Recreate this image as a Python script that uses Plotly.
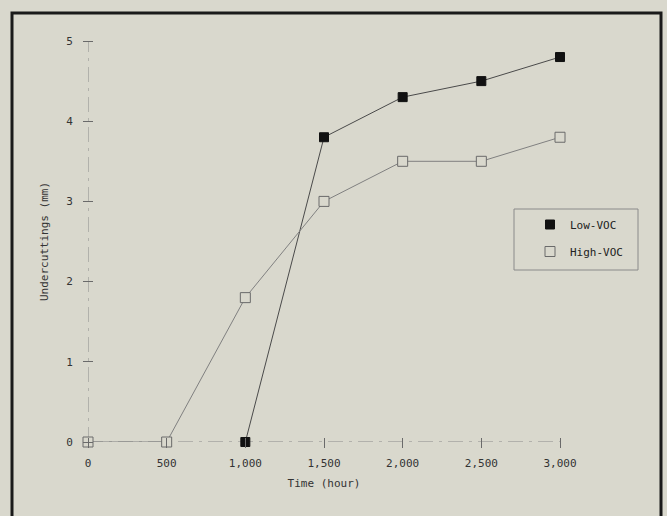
import plotly.graph_objects as go

# ---- data ----
time_low = [1000, 1500, 2000, 2500, 3000]
low_voc = [0.0, 3.8, 4.3, 4.5, 4.8]
time_high = [0, 500, 1000, 1500, 2000, 2500, 3000]
high_voc = [0.0, 0.0, 1.8, 3.0, 3.5, 3.5, 3.8]
x_tickvals = [0, 500, 1000, 1500, 2000, 2500, 3000]
x_ticktext = ["0", "500", "1,000", "1,500", "2,000", "2,500", "3,000"]
y_tickvals = [0, 1, 2, 3, 4, 5]
y_ticktext = ["0", "1", "2", "3", "4", "5"]

BG = "rgb(217,216,205)"
FONT = "DejaVu Sans Mono"
TXT = "#333333"

W, H = 667, 516
L, R, T, B = 88, 107, 41, 74
pw, ph = W - L - R, H - T - B
TICK_HALF = 5  # ticks cross the axis line: 5 px on each side

low_line = dict(color="#4a4a4a", width=1)
low_marker = dict(symbol="square", size=9, color="#111111",
                  line=dict(color="#111111", width=1))
high_line = dict(color="#808080", width=1)
high_marker = dict(symbol="square", size=10, color=BG,
                   line=dict(color="#6a6a6a", width=1))

fig = go.Figure()

fig.add_trace(go.Scatter(
    x=time_low, y=low_voc, name="Low-VOC", mode="lines+markers",
    line=low_line, marker=low_marker, cliponaxis=False, showlegend=False,
))
fig.add_trace(go.Scatter(
    x=time_high, y=high_voc, name="High-VOC", mode="lines+markers",
    line=high_line, marker=high_marker, cliponaxis=False, showlegend=False,
))
# legend entries (marker only, as in the reference)
fig.add_trace(go.Scatter(x=[None], y=[None], name="Low-VOC", mode="markers",
                         marker=low_marker, legendgroup="a"))
fig.add_trace(go.Scatter(x=[None], y=[None], name="High-VOC", mode="markers",
                         marker=high_marker, legendgroup="b"))

# dashed axis lines
fig.add_shape(type="line", xref="x", yref="y", x0=0, x1=0, y0=0, y1=5,
              line=dict(color="#8a8a8a", width=1, dash="longdashdot"), layer="below")
fig.add_shape(type="line", xref="x", yref="y", x0=0, x1=3000, y0=0, y1=0,
              line=dict(color="#8a8a8a", width=1, dash="longdashdot"), layer="below")

def px_x(p):
    return (p - L) / pw
def px_y(p):
    return (H - B - p) / ph

# outer frame
fig.add_shape(type="rect", xref="paper", yref="paper",
              x0=px_x(12), x1=px_x(661), y0=px_y(540), y1=px_y(13),
              line=dict(color="#1a1a1a", width=3), fillcolor="rgba(0,0,0,0)")
# legend box
fig.add_shape(type="rect", xref="paper", yref="paper",
              x0=px_x(514), x1=px_x(638), y0=px_y(270), y1=px_y(209),
              line=dict(color="#8a8a8a", width=1), fillcolor="rgba(0,0,0,0)")

axis_common = dict(showgrid=False, zeroline=False, showline=False,
                   tickcolor="#6a6a6a", tickwidth=1, ticklen=2 * TICK_HALF,
                   ticks="outside", automargin=False,
                   tickfont=dict(family=FONT, size=11, color=TXT))

fig.update_layout(
    width=W, height=H,
    margin=dict(l=L, r=R, t=T, b=B, autoexpand=False),
    paper_bgcolor=BG, plot_bgcolor=BG,
    font=dict(family=FONT, size=11, color=TXT),
    xaxis=dict(range=[0, 3000], tickvals=x_tickvals, ticktext=x_ticktext,
               anchor="free", position=TICK_HALF / ph, ticklabelstandoff=6,
               title=dict(text="Time (hour)", standoff=10,
                          font=dict(family=FONT, size=11, color=TXT)),
               **axis_common),
    yaxis=dict(range=[0, 5], tickvals=y_tickvals, ticktext=y_ticktext,
               anchor="free", position=TICK_HALF / pw, ticklabelstandoff=8,
               title=dict(text="Undercuttings (mm)", standoff=14,
                          font=dict(family=FONT, size=11, color=TXT)),
               **axis_common),
    legend=dict(x=px_x(530), y=px_y(210), xanchor="left", yanchor="top",
                bgcolor="rgba(0,0,0,0)", borderwidth=0,
                font=dict(family=FONT, size=11, color="#222222"),
                tracegroupgap=8, traceorder="grouped"),
    showlegend=True,
)

fig.write_html(
    "out.html",
    config={"displayModeBar": False},
    post_script="document.body.style.margin='0';"
                "document.body.style.background='rgb(217,216,205)';",
)
